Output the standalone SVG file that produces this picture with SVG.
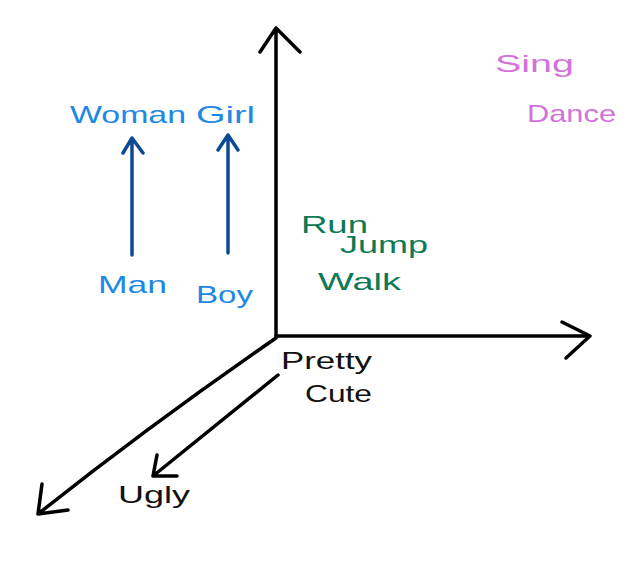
<svg xmlns="http://www.w3.org/2000/svg" width="642" height="568" viewBox="0 0 642 568">
<style>
text{font-family:"Liberation Sans","DejaVu Sans",sans-serif;font-size:24px}
.blue{fill:#1e88e5}
.green{fill:#0b7a55}
.pink{fill:#d272da}
.black{fill:#111}
.axis{fill:none;stroke:#000;stroke-width:3.5;stroke-linecap:round;stroke-linejoin:round}
.barrow{fill:none;stroke:#0d4a94;stroke-width:3.5;stroke-linecap:round;stroke-linejoin:round}
</style>
<rect width="642" height="568" fill="#fff"/>
<g id="connectors">
  <path class="axis" d="M276 336 L276 28 M260 52 L276 28 L300 52"/>
  <path class="axis" d="M276 336 L590 336 M562 322 L590 336 L566 358"/>
  <path class="axis" d="M276 338 Q150 425 38 514 M42 484 L38 514 L68 510"/>
  <path class="axis" d="M278 375 L153 476 M157 455 L153 476 L177 476"/>
  <path class="barrow" d="M132 255 L132 138 M123 153 L132 138 L143 153"/>
  <path class="barrow" d="M228 253 L228 135 M218 150 L228 135 L238 150"/>
</g>
<g id="woman"><text class="blue" x="70" y="123" textLength="116" lengthAdjust="spacingAndGlyphs">Woman</text></g>
<g id="girl"><text class="blue" x="196" y="123" textLength="59" lengthAdjust="spacingAndGlyphs">Girl</text></g>
<g id="man"><text class="blue" x="98" y="293" textLength="69" lengthAdjust="spacingAndGlyphs">Man</text></g>
<g id="boy"><text class="blue" x="196" y="303" textLength="57" lengthAdjust="spacingAndGlyphs">Boy</text></g>
<g id="sing"><text class="pink" x="495" y="72" textLength="79" lengthAdjust="spacingAndGlyphs">Sing</text></g>
<g id="dance"><text class="pink" x="527" y="122" textLength="89" lengthAdjust="spacingAndGlyphs">Dance</text></g>
<g id="run"><text class="green" x="301" y="233" textLength="67" lengthAdjust="spacingAndGlyphs">Run</text></g>
<g id="jump"><text class="green" x="340" y="253" textLength="88" lengthAdjust="spacingAndGlyphs">Jump</text></g>
<g id="walk"><text class="green" x="318" y="290" textLength="83" lengthAdjust="spacingAndGlyphs">Walk</text></g>
<g id="pretty"><text class="black" x="281" y="369" textLength="91" lengthAdjust="spacingAndGlyphs">Pretty</text></g>
<g id="cute"><text class="black" x="305" y="402" textLength="67" lengthAdjust="spacingAndGlyphs">Cute</text></g>
<g id="ugly"><text class="black" x="118" y="503" textLength="72" lengthAdjust="spacingAndGlyphs">Ugly</text></g>
</svg>
